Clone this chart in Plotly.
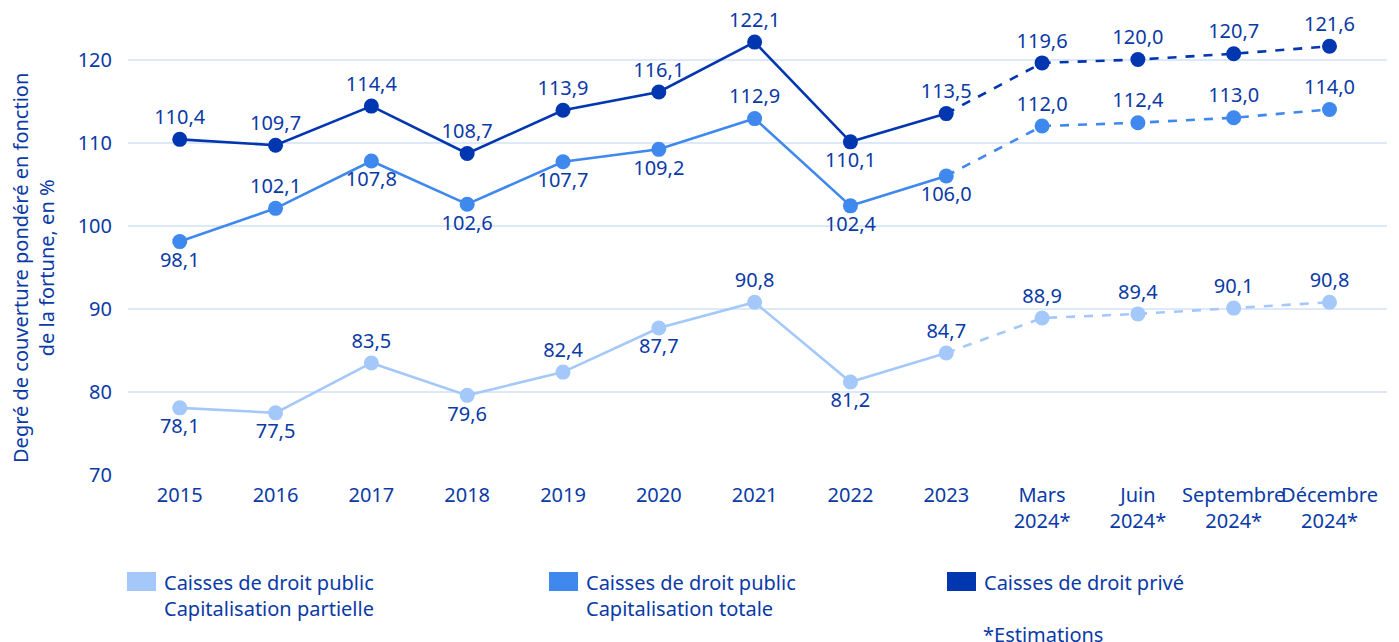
import plotly.graph_objects as go

categories = ["2015", "2016", "2017", "2018", "2019", "2020", "2021", "2022", "2023",
              "Mars<br>2024*", "Juin<br>2024*", "Septembre<br>2024*", "Décembre<br>2024*"]
prive = [110.4, 109.7, 114.4, 108.7, 113.9, 116.1, 122.1, 110.1, 113.5, 119.6, 120.0, 120.7, 121.6]
public_totale = [98.1, 102.1, 107.8, 102.6, 107.7, 109.2, 112.9, 102.4, 106.0, 112.0, 112.4, 113.0, 114.0]
public_partielle = [78.1, 77.5, 83.5, 79.6, 82.4, 87.7, 90.8, 81.2, 84.7, 88.9, 89.4, 90.1, 90.8]

pos_prive = ["top"] * 7 + ["bottom"] + ["top"] * 5
pos_totale = ["bottom", "top", "bottom", "bottom", "bottom", "bottom", "top", "bottom", "bottom",
              "top", "top", "top", "top"]
pos_partielle = ["bottom", "bottom", "top", "bottom", "top", "bottom", "top", "bottom", "top",
                 "top", "top", "top", "top"]

legend_names = ["Caisses de droit public<br>Capitalisation partielle",
                "Caisses de droit public<br>Capitalisation totale",
                "Caisses de droit privé"]
note = "*Estimations"
y_title = "Degré de couverture pondéré en fonction<br>de la fortune, en %"

C_DARK = "#0036b0"
C_MID = "#3f88ee"
C_LIGHT = "#a4c8fa"
TXT = "#0a3aa6"
FONT = "Noto Sans"
FS = 20

W, H = 1399, 642
ML, MR, MT, MB = 128, 12, 18, 166
PW, PH = W - ML - MR, H - MT - MB

def px(x):
    return (x - ML) / PW

def py(y):
    return (H - MB - y) / PH

x = list(range(len(categories)))
n_solid = 9

fig = go.Figure()
series = [(public_partielle, C_LIGHT, pos_partielle),
          (public_totale, C_MID, pos_totale),
          (prive, C_DARK, pos_prive)]
for vals, col, pos in series:
    fig.add_trace(go.Scatter(x=x[:n_solid], y=vals[:n_solid], mode="lines",
                             line=dict(color=col, width=2.6), hoverinfo="skip"))
    fig.add_trace(go.Scatter(x=x[n_solid - 1:], y=vals[n_solid - 1:], mode="lines",
                             line=dict(color=col, width=2.6, dash="dash"), hoverinfo="skip"))
    fig.add_trace(go.Scatter(x=x, y=vals, mode="markers+text", cliponaxis=False,
                             marker=dict(color=col, size=15),
                             text=[f"{v:.1f}".replace(".", ",") for v in vals],
                             textposition=[p + " center" for p in pos],
                             textfont=dict(family=FONT, size=FS, color=TXT)))

fig.update_layout(
    width=W, height=H,
    margin=dict(l=ML, r=MR, t=MT, b=MB),
    paper_bgcolor="white", plot_bgcolor="white",
    showlegend=False,
    font=dict(family=FONT, size=FS, color=TXT),
    xaxis=dict(tickmode="array", tickvals=x, ticktext=categories, tickangle=0,
               range=[-0.54, 12.6], showgrid=False, zeroline=False, showline=False,
               tickfont=dict(family=FONT, size=FS, color=TXT), ticks="", ticklen=0,
               ticklabelstandoff=5),
    yaxis=dict(range=[69.9, 125.0], tickvals=[70, 80, 90, 100, 110, 120],
               showgrid=True, gridcolor="#dde9f9", gridwidth=1.5,
               zeroline=False, showline=False, ticks="",
               tickfont=dict(family=FONT, size=FS, color=TXT),
               ticklabelstandoff=15),
)

fig.add_annotation(xref="paper", yref="paper", x=px(33), y=py(268),
                   xanchor="center", yanchor="middle", textangle=-90, showarrow=False,
                   text=y_title, font=dict(family=FONT, size=FS, color=TXT))

legend_cols = [C_LIGHT, C_MID, C_DARK]
legend_x = [127, 549, 947]
for lx, col, name in zip(legend_x, legend_cols, legend_names):
    fig.add_shape(type="rect", xref="paper", yref="paper",
                  x0=px(lx), x1=px(lx + 29), y0=py(591), y1=py(572),
                  fillcolor=col, line=dict(width=0))
    fig.add_annotation(xref="paper", yref="paper", x=px(lx + 35), y=py(567),
                       xanchor="left", yanchor="top", align="left", showarrow=False,
                       text=name, font=dict(family=FONT, size=FS, color=TXT))
fig.add_annotation(xref="paper", yref="paper", x=px(981), y=py(619),
                   xanchor="left", yanchor="top", align="left", showarrow=False,
                   text=note, font=dict(family=FONT, size=FS, color=TXT))

fig.write_html("out.html")
